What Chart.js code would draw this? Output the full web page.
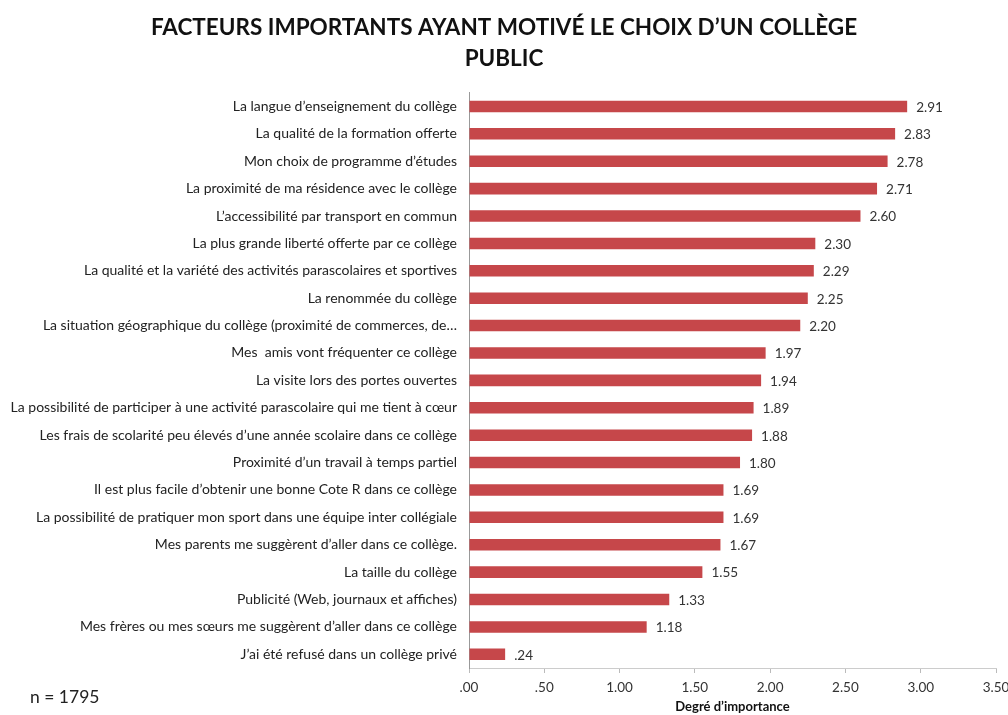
<!DOCTYPE html>
<html>
<head>
<meta charset="utf-8">
<script src="https://cdn.jsdelivr.net/npm/chart.js@4/dist/chart.umd.min.js"></script>
<style>
  body { margin: 0; background: #fff; }
  #wrap { position: relative; width: 1008px; height: 715px; }
  #note { position: absolute; left: 30px; top: 686px; font: 17.5px Lato, sans-serif; color: #222; }
</style>
</head>
<body>
<div id="wrap">
  <canvas id="chart" width="1008" height="715"></canvas>
  <div id="note">n = 1795</div>
</div>
<script>
// Données
const facteurs = [
    'La langue d\u2019enseignement du collège',
    'La qualité de la formation offerte',
    'Mon choix de programme d\u2019études',
    'La proximité de ma résidence avec le collège',
    'L\u2019accessibilité par transport en commun',
    'La plus grande liberté offerte par ce collège',
    'La qualité et la variété des activités parascolaires et sportives',
    'La renommée du collège',
    'La situation géographique du collège (proximité de commerces, de…',
    'Mes  amis vont fréquenter ce collège',
    'La visite lors des portes ouvertes',
    'La possibilité de participer à une activité parascolaire qui me tient à cœur',
    'Les frais de scolarité peu élevés d\u2019une année scolaire dans ce collège',
    'Proximité d\u2019un travail à temps partiel',
    'Il est plus facile d\u2019obtenir une bonne Cote R dans ce collège',
    'La possibilité de pratiquer mon sport dans une équipe inter collégiale',
    'Mes parents me suggèrent d\u2019aller dans ce collège.',
    'La taille du collège',
    'Publicité (Web, journaux et affiches)',
    'Mes frères ou mes sœurs me suggèrent d\u2019aller dans ce collège',
    'J\u2019ai été refusé dans un collège privé'
];
const moyennes = [2.91, 2.83, 2.78, 2.71, 2.60, 2.30, 2.29, 2.25, 2.20, 1.97, 1.94,
                  1.89, 1.88, 1.80, 1.69, 1.69, 1.67, 1.55, 1.33, 1.18, 0.24];
const titre = ['FACTEURS IMPORTANTS AYANT MOTIVÉ LE CHOIX D\u2019UN COLLÈGE', 'PUBLIC'];
const axeMax = 3.5;
const axePas = 0.5;

// format Excel: .24 / 1.18
const fmt = (v) => v.toFixed(2).replace(/^0/, '');

const valeursPlugin = {
    id: 'valeurs',
    afterDatasetsDraw(chart) {
        const ctx = chart.ctx;
        const meta = chart.getDatasetMeta(0);
        ctx.save();
        ctx.font = '13.5px Lato, sans-serif';
        ctx.fillStyle = '#333';
        ctx.textBaseline = 'middle';
        meta.data.forEach((bar, i) => {
            ctx.fillText(fmt(moyennes[i]), bar.x + 9, bar.y + 1);
        });
        ctx.restore();
    }
};

new Chart(document.getElementById('chart'), {
    type: 'bar',
    data: {
        labels: facteurs,
        datasets: [{
            data: moyennes,
            backgroundColor: '#c6474a',
            barPercentage: 0.42,
            categoryPercentage: 1
        }]
    },
    options: {
        indexAxis: 'y',
        responsive: false,
        animation: false,
        layout: { padding: 0 },
        plugins: {
            legend: { display: false },
            tooltip: { enabled: false },
            title: {
                display: true,
                text: titre,
                color: '#111',
                font: { family: 'Lato', size: 22.5, weight: 'bold', lineHeight: 1.35 },
                padding: { top: 13, bottom: 19 }
            }
        },
        scales: {
            x: {
                min: 0,
                max: axeMax,
                ticks: {
                    stepSize: axePas,
                    color: '#333',
                    font: { family: 'Lato', size: 13.5 },
                    padding: 7,
                    callback: (v) => fmt(v)
                },
                grid: { drawOnChartArea: false, tickLength: 5, color: '#bbb' },
                border: { color: '#ccc' },
                title: {
                    display: true,
                    text: 'Degré d\u2019importance',
                    color: '#111',
                    font: { family: 'Lato', size: 13, weight: 'bold' },
                    padding: { top: 2, bottom: 0 }
                },
                afterFit: (s) => { s.height = 47; s.paddingRight = 12; s.paddingLeft = 0; }
            },
            y: {
                ticks: {
                    color: '#222',
                    font: { family: 'Lato', size: 14 },
                    padding: 12,
                    autoSkip: false
                },
                grid: { display: false, drawTicks: false },
                border: { display: true, color: '#999' },
                afterFit: (s) => { s.width = 469; }
            }
        }
    },
    plugins: [valeursPlugin]
});
</script>
</body>
</html>
